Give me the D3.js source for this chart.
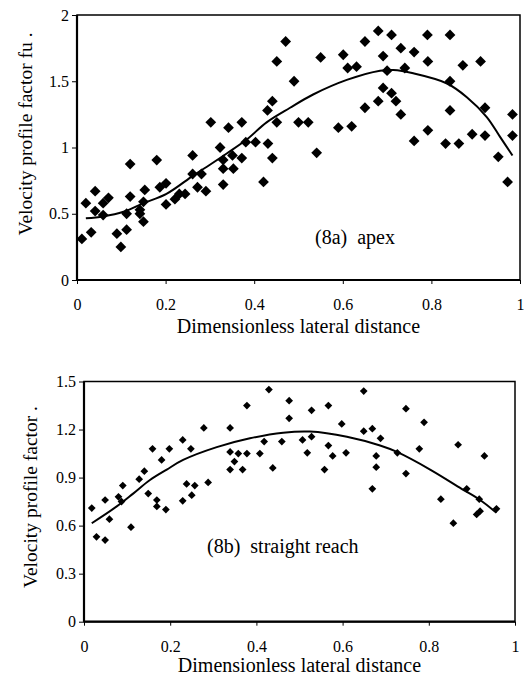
<!DOCTYPE html>
<html><head><meta charset="utf-8">
<script src="https://cdn.jsdelivr.net/npm/d3@7"></script>
<style>html,body{margin:0;padding:0;background:#fff;}svg{display:block;} text{font-family:"Liberation Serif","Times New Roman",Times,serif;}</style>
</head><body>
<svg id="c" width="524" height="678"></svg>
<script>
// ---- data ----
const xTicks = [0, 0.2, 0.4, 0.6, 0.8, 1];
const yTicksA = [0, 0.5, 1, 1.5, 2];
const yTicksB = [0, 0.3, 0.6, 0.9, 1.2, 1.5];

// (8a) apex scatter
const apexX = [0.011,0.020,0.032,0.041,0.041,0.059,0.059,0.071,0.090,0.099,0.112,0.112,0.120,0.120,0.142,0.142,0.150,0.150,0.153,0.180,0.187,0.201,0.201,0.221,0.231,0.244,0.261,0.261,0.272,0.281,0.291,0.302,0.323,0.330,0.330,0.330,0.342,0.351,0.353,0.372,0.372,0.381,0.403,0.421,0.430,0.431,0.441,0.441,0.451,0.451,0.471,0.490,0.500,0.522,0.541,0.550,0.590,0.601,0.611,0.620,0.631,0.650,0.650,0.680,0.680,0.691,0.691,0.700,0.710,0.710,0.720,0.731,0.731,0.740,0.761,0.761,0.791,0.792,0.792,0.832,0.842,0.842,0.842,0.862,0.871,0.892,0.911,0.921,0.921,0.951,0.972,0.983,0.983];
const apexY = [0.31,0.58,0.36,0.67,0.52,0.58,0.49,0.62,0.35,0.25,0.50,0.38,0.63,0.875,0.53,0.50,0.44,0.59,0.68,0.905,0.70,0.73,0.57,0.61,0.65,0.65,0.80,0.94,0.70,0.80,0.67,1.19,1.00,0.906,0.84,0.72,1.15,0.94,0.84,1.19,0.92,1.04,1.04,0.74,1.28,1.03,1.35,0.92,1.65,1.19,1.80,1.50,1.19,1.19,0.96,1.68,1.15,1.70,1.60,1.16,1.61,1.80,1.30,1.88,1.35,1.69,1.45,1.58,1.85,1.41,1.35,1.75,1.25,1.60,1.72,1.05,1.85,1.65,1.13,1.03,1.85,1.50,1.28,1.03,1.62,1.10,1.65,1.30,1.09,0.93,0.74,1.25,1.09];
// (8a) trend line
const apexTrendX = [0.02,0.059,0.105,0.15,0.202,0.263,0.30,0.338,0.383,0.428,0.481,0.533,0.609,0.684,0.714,0.759,0.834,0.880,0.925,0.955,0.983];
const apexTrendY = [0.466,0.48,0.515,0.58,0.65,0.79,0.87,0.955,1.06,1.19,1.30,1.40,1.51,1.58,1.585,1.56,1.485,1.38,1.23,1.08,0.94];

// (8b) straight reach scatter
const reachX = [0.018,0.029,0.049,0.049,0.059,0.080,0.087,0.090,0.109,0.128,0.140,0.149,0.159,0.169,0.169,0.180,0.190,0.198,0.229,0.229,0.238,0.248,0.250,0.257,0.278,0.288,0.339,0.339,0.339,0.349,0.358,0.368,0.378,0.378,0.408,0.418,0.429,0.438,0.459,0.476,0.476,0.507,0.518,0.528,0.528,0.558,0.567,0.567,0.577,0.598,0.608,0.649,0.649,0.669,0.669,0.678,0.678,0.688,0.727,0.747,0.747,0.778,0.789,0.828,0.857,0.868,0.888,0.911,0.917,0.919,0.929,0.957];
const reachY = [0.71,0.53,0.51,0.76,0.64,0.78,0.75,0.85,0.59,0.89,0.94,0.80,1.08,0.76,0.72,1.01,0.70,1.08,1.135,0.755,0.86,1.08,0.79,0.85,1.21,0.87,1.21,1.06,0.95,1.00,1.05,0.95,1.05,1.35,1.05,1.125,1.45,0.96,1.125,1.38,1.27,1.135,1.055,1.155,1.32,0.95,1.35,1.10,1.035,1.235,1.055,1.44,1.19,1.205,0.83,1.035,0.965,1.145,1.055,1.33,0.925,1.08,1.245,0.765,0.615,1.105,0.83,0.67,0.765,0.69,1.035,0.705];
// (8b) trend line
const reachTrendX = [0.018,0.076,0.114,0.153,0.192,0.230,0.308,0.385,0.462,0.524,0.610,0.687,0.726,0.803,0.876,0.919,0.957];
const reachTrendY = [0.615,0.72,0.80,0.885,0.95,1.01,1.09,1.145,1.18,1.187,1.155,1.10,1.06,0.95,0.83,0.76,0.68];

// ---- drawing ----
const svg = d3.select('#c');
const FONT = '"Liberation Serif", "Times New Roman", Times, serif';

function panel(o) {
  const x = d3.scaleLinear().domain([0, 1]).range([o.left, o.right]);
  const y = d3.scaleLinear().domain([0, o.ymax]).range([o.bottom, o.top]);
  const g = svg.append('g');

  // y axis
  const ya = g.append('g').attr('transform', `translate(${o.left},0)`)
    .call(d3.axisLeft(y).tickValues(o.yTicks).tickSize(5).tickPadding(3).tickFormat(d => String(d)));
  ya.select('.domain').remove();
  ya.attr('font-family', null);
  ya.selectAll('text').style('font-family', FONT).attr('font-size', 16).attr('fill', '#000');
  ya.selectAll('line').attr('stroke', '#000');

  // x axis
  const xa = g.append('g').attr('transform', `translate(0,${o.bottom})`)
    .call(d3.axisBottom(x).tickValues(xTicks).tickSize(4).tickPadding(15).tickFormat(d => String(d)));
  xa.select('.domain').remove();
  xa.attr('font-family', null);
  xa.selectAll('text').style('font-family', FONT).attr('font-size', 16).attr('fill', '#000');
  xa.selectAll('line').attr('stroke', '#000');

  // frame
  g.append('rect').attr('x', o.left).attr('y', o.top)
    .attr('width', o.right - o.left).attr('height', o.bottom - o.top)
    .attr('fill', 'none').attr('stroke', '#000').attr('stroke-width', 1.5);
  g.append('line').attr('x1', o.left).attr('x2', o.left).attr('y1', o.top).attr('y2', o.bottom)
    .attr('stroke', '#000').attr('stroke-width', 2.2);
  g.append('line').attr('x1', o.left).attr('x2', o.right).attr('y1', o.bottom).attr('y2', o.bottom)
    .attr('stroke', '#000').attr('stroke-width', 2.2);

  // points
  const sym = d3.symbol().type(d3.symbolSquare).size(o.size);
  g.append('g').selectAll('path').data(o.px.map((v, i) => [v, o.py[i]])).join('path')
    .attr('d', sym)
    .attr('transform', d => `translate(${x(d[0])},${y(d[1])}) rotate(45)`)
    .attr('fill', '#000');

  // trend line
  const line = d3.line().x(d => x(d[0])).y(d => y(d[1])).curve(d3.curveCatmullRom);
  g.append('path').datum(o.tx.map((v, i) => [v, o.ty[i]]))
    .attr('d', line).attr('fill', 'none').attr('stroke', '#000').attr('stroke-width', 2);

  // axis titles
  g.append('text').attr('x', (o.left + o.right) / 2).attr('y', o.bottom + o.xlOff)
    .attr('text-anchor', 'middle').style('font-family', FONT).attr('font-size', 20)
    .text('Dimensionless lateral distance');
  g.append('text').attr('transform', `translate(${o.ylx},${o.yly}) rotate(-90)`)
    .attr('text-anchor', 'middle').style('font-family', FONT).attr('font-size', 19.5)
    .text(o.ylabel);
  g.append('text').attr('x', o.annX).attr('y', o.annY)
    .style('font-family', FONT).attr('font-size', 20)
    .style('white-space', 'pre')
    .text(o.ann);
}

panel({left: 77, right: 520, top: 15, bottom: 280, ymax: 2, yTicks: yTicksA,
  px: apexX, py: apexY, tx: apexTrendX, ty: apexTrendY, size: 58, xlOff: 53,
  ylabel: 'Velocity profile factor fu .', ylx: 32, yly: 134,
  ann: '(8a)  apex', annX: 315, annY: 244});

panel({left: 84, right: 515, top: 381.5, bottom: 621.7, ymax: 1.5, yTicks: yTicksB,
  px: reachX, py: reachY, tx: reachTrendX, ty: reachTrendY, size: 30, xlOff: 50.5,
  ylabel: 'Velocity profile factor .', ylx: 37, yly: 497,
  ann: '(8b)  straight reach', annX: 207, annY: 553});
</script>
</body></html>
